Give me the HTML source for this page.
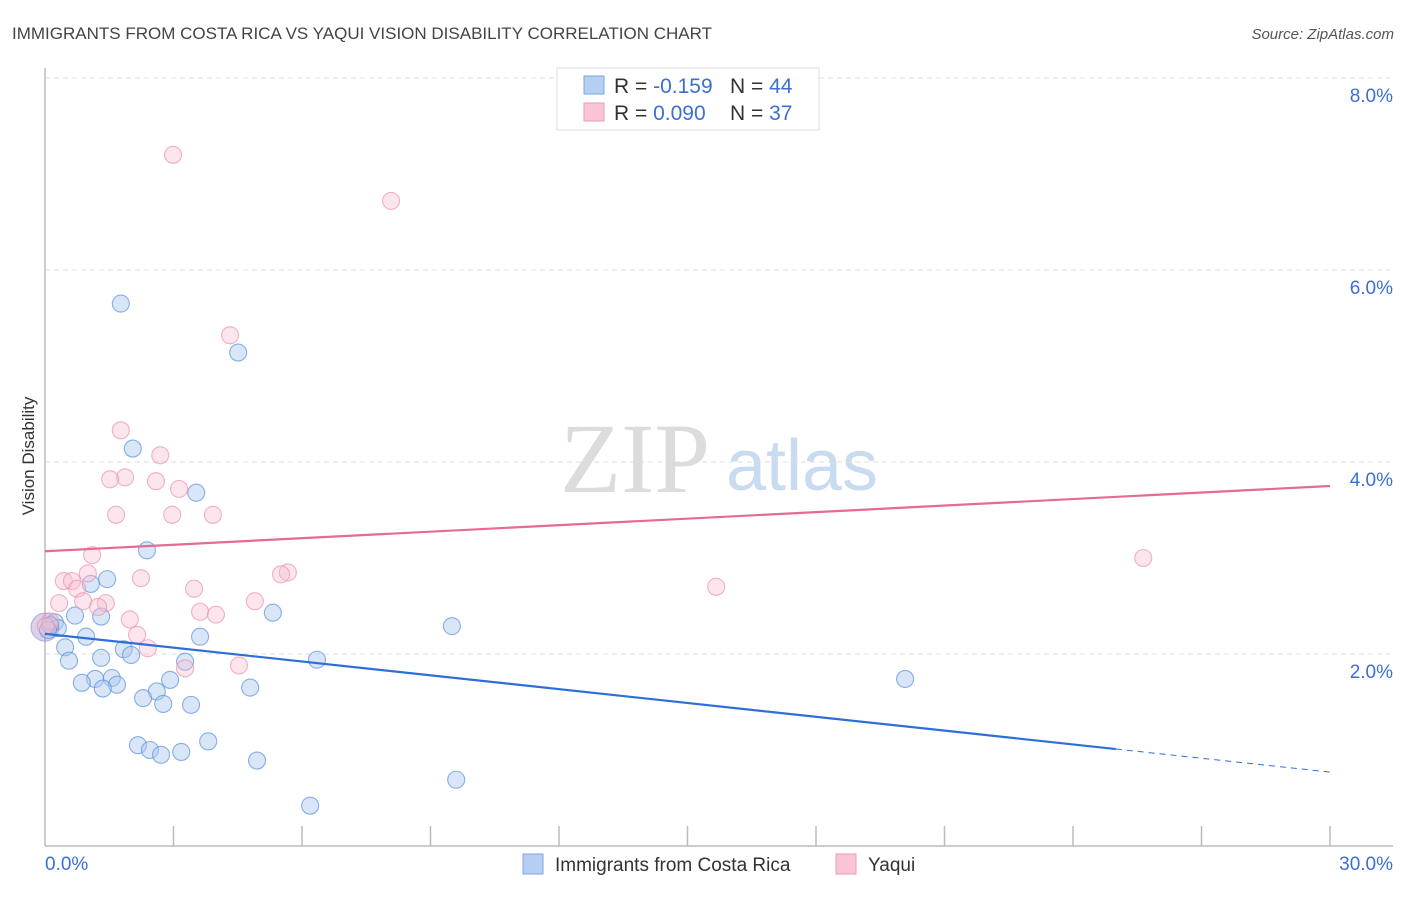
<!DOCTYPE html>
<html><head><meta charset="utf-8"><style>
body{margin:0;background:#fff;font-family:"Liberation Sans",sans-serif;}
svg text{font-family:"Liberation Sans",sans-serif;}
</style></head><body>
<svg id="chart" width="1406" height="892" viewBox="0 0 1406 892" xmlns="http://www.w3.org/2000/svg">
<text x="12" y="39" font-size="17" fill="#444">IMMIGRANTS FROM COSTA RICA VS YAQUI VISION DISABILITY CORRELATION CHART</text>
<text x="1394" y="39" font-size="15" fill="#555" text-anchor="end" font-style="italic">Source: ZipAtlas.com</text>
<text transform="translate(34,456) rotate(-90)" font-size="17" fill="#333" text-anchor="middle">Vision Disability</text>
<g>
<text x="635" y="492" font-size="100" fill="#dcdcdc" text-anchor="middle" style="font-family:'Liberation Serif',serif">ZIP</text>
<text x="802" y="490" font-size="72" fill="#c9dbf0" text-anchor="middle">atlas</text>
</g>
<g id="grid"></g>
<g id="axes"></g>
<g id="marks"></g>
<g>
<rect x="557" y="68" width="262" height="62" fill="#fff" stroke="#ddd"/>
<rect x="584" y="76" width="20" height="18" fill="#b5cff3" stroke="#7ea6e0"/>
<rect x="584" y="103" width="20" height="18" fill="#f9c5d4" stroke="#ec9ab3"/>
<text x="614" y="93" font-size="21" fill="#333">R = <tspan fill="#3b6fd1">-0.159</tspan><tspan x="730">N = </tspan><tspan fill="#3b6fd1">44</tspan></text>
<text x="614" y="120" font-size="21" fill="#333">R = <tspan fill="#3b6fd1">0.090</tspan><tspan x="730">N = </tspan><tspan fill="#3b6fd1"> 37</tspan></text>
</g>
<g>
<rect x="523" y="854" width="20" height="20" fill="#b5cff3" stroke="#7ea6e0"/>
<text x="555" y="871" font-size="19" fill="#333">Immigrants from Costa Rica</text>
<rect x="836" y="854" width="20" height="20" fill="#f9c5d4" stroke="#ec9ab3"/>
<text x="868" y="871" font-size="19" fill="#333">Yaqui</text>
</g>
</svg>
<script>
const yTicks=[2,4,6,8];
const xTickLabels=["0.0%","30.0%"];
const blueX=[1.77,4.51,2.05,3.53,2.38,1.45,1.07,5.32,9.50,0.70,1.31,0.23,0.30,0.96,3.62,0.47,1.84,2.01,0.56,1.31,3.27,6.35,1.56,1.17,2.92,0.86,1.68,1.35,2.61,4.79,2.29,2.76,3.41,20.08,2.17,3.81,2.45,2.71,3.18,4.95,9.60,6.19,0.12,0.07];
const blueY=[5.65,5.14,4.14,3.68,3.08,2.78,2.73,2.43,2.29,2.40,2.39,2.33,2.27,2.18,2.18,2.07,2.05,1.99,1.93,1.96,1.92,1.94,1.75,1.74,1.73,1.70,1.68,1.64,1.61,1.65,1.54,1.48,1.47,1.74,1.05,1.09,1.00,0.95,0.98,0.89,0.69,0.42,2.30,2.25];
const pinkX=[2.99,8.08,4.32,1.77,2.69,1.87,1.52,2.59,3.13,1.66,2.97,3.92,1.10,2.24,5.67,5.51,0.44,0.63,1.00,0.75,3.48,15.67,25.64,0.33,1.42,0.89,1.24,4.90,3.62,3.99,1.98,2.15,2.40,4.53,3.27,0.12,0.02];
const pinkY=[7.20,6.72,5.32,4.33,4.07,3.84,3.82,3.80,3.72,3.45,3.45,3.45,3.03,2.79,2.85,2.83,2.76,2.76,2.84,2.68,2.68,2.70,3.00,2.53,2.53,2.55,2.49,2.55,2.44,2.41,2.36,2.20,2.06,1.88,1.85,2.34,2.29];
const blueTrend=[2.21,0.77];
const pinkTrend=[3.07,3.75];
const blueSolidEnd=25;
const X0=45,X1=1330,Y0=846,PXPER=96;
const sx=v=>X0+(X1-X0)*v/30;
const sy=v=>Y0-v*PXPER;
const NS="http://www.w3.org/2000/svg";
function mk(tag,parent,attrs){const e=document.createElementNS(NS,tag);for(const k in attrs)e.setAttribute(k,attrs[k]);parent.appendChild(e);return e;}
const grid=document.getElementById('grid'),axes=document.getElementById('axes'),marks=document.getElementById('marks');
yTicks.forEach(t=>{
 const l=mk('line',grid,{x1:X0,x2:1393,y1:sy(t),y2:sy(t),stroke:'#ddd','stroke-dasharray':'5,4'});
 
 
 const tx=mk('text',grid,{x:1393,y:sy(t)+24,'font-size':19,fill:'#3b6fd1','text-anchor':'end'});
 tx.textContent=t.toFixed(1)+'%';
 
 
});
const ya=mk('line',axes,{x1:X0,x2:X0,y1:68,y2:Y0,stroke:'#bbb','stroke-width':1.5});


const xa=mk('line',axes,{x1:X0,x2:1393,y1:Y0,y2:Y0,stroke:'#bbb','stroke-width':1.5});


for(let i=1;i<=10;i++){
 const tk=mk('line',axes,{x1:sx(i*3),x2:sx(i*3),y1:Y0-20,y2:Y0,stroke:'#bbb','stroke-width':1.5});
 
 
}
const xl0=mk('text',axes,{x:45,y:870,'font-size':19,fill:'#3b6fd1'});
xl0.textContent=xTickLabels[0];


const xl1=mk('text',axes,{x:1393,y:870,'font-size':19,fill:'#3b6fd1','text-anchor':'end'});
xl1.textContent=xTickLabels[1];


const bo=mk('circle',marks,{cx:sx(0),cy:sy(2.28),r:14,fill:'rgba(168,140,200,0.4)',stroke:'rgba(120,140,210,0.6)'});


blueX.forEach((x,i)=>{
 const c=mk('circle',marks,{cx:sx(x),cy:sy(blueY[i]),r:8.5,fill:'rgba(170,200,240,0.45)',stroke:'rgba(90,145,220,0.7)','stroke-width':1.1});
 
 
});
pinkX.forEach((x,i)=>{
 const c=mk('circle',marks,{cx:sx(x),cy:sy(pinkY[i]),r:8.5,fill:'rgba(248,190,208,0.4)',stroke:'rgba(235,145,175,0.7)','stroke-width':1.1});
 
 
});
const by=x=>blueTrend[0]+(blueTrend[1]-blueTrend[0])*x/30;
const bl=mk('line',marks,{x1:sx(0),y1:sy(by(0)),x2:sx(blueSolidEnd),y2:sy(by(blueSolidEnd)),stroke:'#2d6fd6','stroke-width':2.2});


const bd=mk('line',marks,{x1:sx(blueSolidEnd),y1:sy(by(blueSolidEnd)),x2:sx(30),y2:sy(by(30)),stroke:'#2d6fd6','stroke-width':1,'stroke-dasharray':'6,5'});


const pl=mk('line',marks,{x1:sx(0),y1:sy(pinkTrend[0]),x2:sx(30),y2:sy(pinkTrend[1]),stroke:'#e56a94','stroke-width':2.2});


</script>
</body></html>
